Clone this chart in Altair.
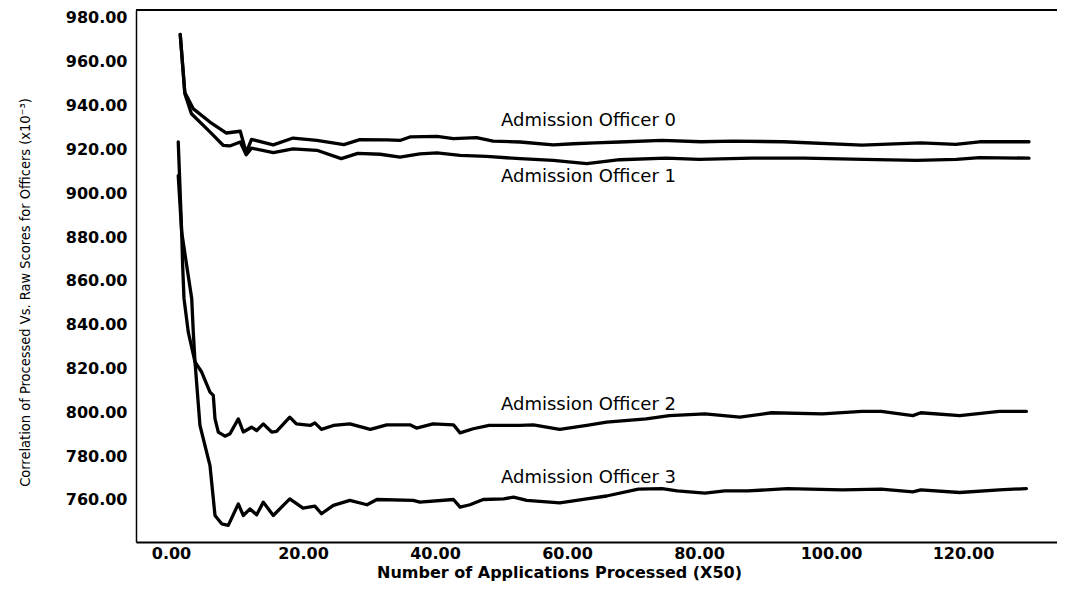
import altair as alt
import pandas as pd

# ---- data ----
o0_x = [1.4, 2.1, 3.4, 5.9, 8.4, 10.5, 11.4, 12.2, 15.5, 18.5, 22.1, 26.2, 28.6, 32.7, 34.7, 36.2,
        40.3, 42.8, 46.3, 48.8, 52.9, 57.9, 61.0, 64.2, 68.0, 74.4, 80.3, 85.1, 92.8, 104.7, 113.6,
        118.9, 122.5, 130.0]
o0_y = [972.5, 946.0, 938.5, 932.5, 927.5, 928.3, 918.5, 924.6, 922.1, 925.2, 924.1, 922.2, 924.5,
        924.4, 924.1, 925.7, 926.0, 924.9, 925.4, 923.8, 923.4, 922.1, 922.6, 923.0, 923.4, 924.1,
        923.5, 923.8, 923.5, 922.0, 923.0, 922.3, 923.5, 923.5]

o1_x = [1.4, 2.1, 3.1, 5.9, 7.9, 8.9, 10.5, 11.4, 12.2, 15.5, 18.5, 22.1, 25.8, 28.3, 31.7, 34.7,
        37.7, 40.3, 43.8, 47.8, 52.9, 57.9, 63.0, 68.0, 75.0, 80.0, 88.0, 96.0, 105.0, 113.0, 119.0,
        122.5, 130.0]
o1_y = [972.5, 945.4, 936.3, 928.0, 921.9, 921.6, 923.4, 917.6, 920.6, 918.5, 920.3, 919.6, 915.8,
        918.2, 917.8, 916.5, 918.0, 918.4, 917.3, 916.8, 915.8, 915.0, 913.5, 915.3, 916.0, 915.5,
        916.0, 916.0, 915.5, 915.0, 915.5, 916.3, 916.0]

o2_x = [1.1, 1.62, 1.77, 1.97, 2.62, 3.64, 4.65, 5.91, 6.41, 6.67, 7.17, 8.18, 8.94, 10.2, 10.96,
        12.2, 12.98, 13.99, 15.25, 16.0, 18.0, 19.0, 21.1, 21.8, 22.8, 24.6, 27.1, 30.2, 32.7, 36.2,
        37.2, 39.7, 42.8, 43.8, 45.8, 48.2, 52.9, 54.9, 58.9, 63.0, 66.0, 72.0, 75.5, 80.9, 86.2,
        91.0, 98.7, 104.7, 107.6, 112.4, 113.6, 119.5, 125.5, 129.6]
o2_y = [908.0, 882.3, 867.0, 852.0, 836.6, 823.0, 818.4, 809.2, 807.7, 797.0, 791.0, 789.1, 790.2,
        797.0, 791.0, 793.2, 791.7, 794.7, 791.0, 791.3, 797.8, 794.7, 794.0, 795.2, 792.2, 794.0,
        794.7, 792.2, 794.3, 794.3, 792.8, 794.7, 794.3, 790.6, 792.5, 794.0, 794.0, 794.3, 792.2,
        794.0, 795.5, 797.0, 798.5, 799.3, 797.8, 799.8, 799.3, 800.4, 800.4, 798.5, 799.8, 798.5,
        800.4, 800.4]

o3_x = [1.1, 1.62, 2.38, 3.14, 3.38, 3.64, 4.39, 5.91, 6.67, 7.68, 8.68, 10.2, 10.96, 11.97, 12.98,
        13.99, 15.5, 18.0, 20.0, 21.8, 22.8, 24.6, 27.1, 29.7, 31.2, 36.7, 37.7, 42.8, 43.8, 45.3,
        47.3, 50.4, 51.9, 53.9, 58.9, 63.0, 66.0, 70.8, 74.4, 76.7, 80.9, 83.9, 87.4, 93.4, 101.7,
        107.6, 112.4, 113.6, 119.5, 125.5, 129.6]
o3_y = [923.4, 882.3, 867.0, 852.0, 836.6, 823.0, 794.0, 775.7, 752.9, 749.1, 748.4, 758.2, 752.9,
        755.9, 753.2, 759.0, 752.9, 760.5, 756.3, 757.2, 753.7, 757.5, 759.8, 757.8, 760.2, 759.8,
        759.0, 760.2, 756.7, 757.8, 760.2, 760.5, 761.3, 759.8, 758.7, 760.5, 761.8, 764.9, 765.2,
        764.1, 763.1, 764.1, 764.1, 765.2, 764.6, 764.9, 763.7, 764.6, 763.4, 764.6, 765.2]

officers = ["Admission Officer 0", "Admission Officer 1", "Admission Officer 2", "Admission Officer 3"]
label_x = [50, 50, 50, 50]
label_y = [933.0, 907.4, 803.3, 770.0]

x_ticks = [0, 20, 40, 60, 80, 100, 120]
y_ticks = [760, 780, 800, 820, 840, 860, 880, 900, 920, 940, 960, 980]

# ---- tables ----
rows = []
for name, xs, ys in zip(officers, [o0_x, o1_x, o2_x, o3_x], [o0_y, o1_y, o2_y, o3_y]):
    for i, (a, b) in enumerate(zip(xs, ys)):
        rows.append({"officer": name, "x": a, "y": b, "i": i})
df = pd.DataFrame(rows)
labels = pd.DataFrame({"text": officers, "x": label_x, "y": label_y})

W, H = 921, 532
xscale = alt.Scale(domain=[-5.30, 134.24], nice=False, zero=False)
yscale = alt.Scale(domain=[740.8, 983.65], nice=False, zero=False)

lines = alt.Chart(df).mark_line(color="black", strokeWidth=3.3, strokeJoin="round", strokeCap="round").encode(
    x=alt.X("x:Q", scale=xscale, axis=alt.Axis(
        values=x_ticks, format=".2f", title="Number of Applications Processed (X50)",
        ticks=False, grid=False, labelPadding=3, labelFontSize=16, labelFont="DejaVu Sans",
        labelFontWeight="bold", labelColor="black", domainColor="black", domainWidth=2,
        titleFont="DejaVu Sans", titleFontSize=16, titleFontWeight="bold", titleColor="black",
        titleX=423, titleY=30, titleAlign="center", titleBaseline="middle")),
    y=alt.Y("y:Q", scale=yscale, axis=alt.Axis(
        values=y_ticks, format=".2f",
        title="Correlation of Processed Vs. Raw Scores for Officers (x10⁻³)",
        ticks=False, grid=False, labelPadding=9, labelFontSize=16, labelFont="DejaVu Sans",
        labelFontWeight="bold", labelColor="black", domainColor="black", domainWidth=1.5,
        titleFont="Liberation Sans Narrow, DejaVu Sans Condensed, sans-serif", titleFontSize=14.5,
        titleFontWeight="normal", titleColor="black", titleAngle=270,
        titleX=-111, titleY=282, titleAlign="center", titleBaseline="middle")),
    detail="officer:N",
    order="i:Q",
)

text = alt.Chart(labels).mark_text(align="left", baseline="middle", font="DejaVu Sans",
                                   fontSize=18, color="black").encode(
    x=alt.X("x:Q", scale=xscale), y=alt.Y("y:Q", scale=yscale), text="text:N")

top = alt.Chart(labels).mark_rule(color="black", strokeWidth=1.5).encode(
    x=alt.value(0), x2=alt.value(W), y=alt.value(0))

chart = alt.layer(lines, text, top).properties(
    width=W, height=H,
    autosize=alt.AutoSizeParams(type="none"),
    padding={"left": 128, "top": 2, "right": 0, "bottom": 40},
    background="white",
).configure_view(stroke=None)

chart.save("out.html", embed_options={"renderer": "svg", "actions": False})
